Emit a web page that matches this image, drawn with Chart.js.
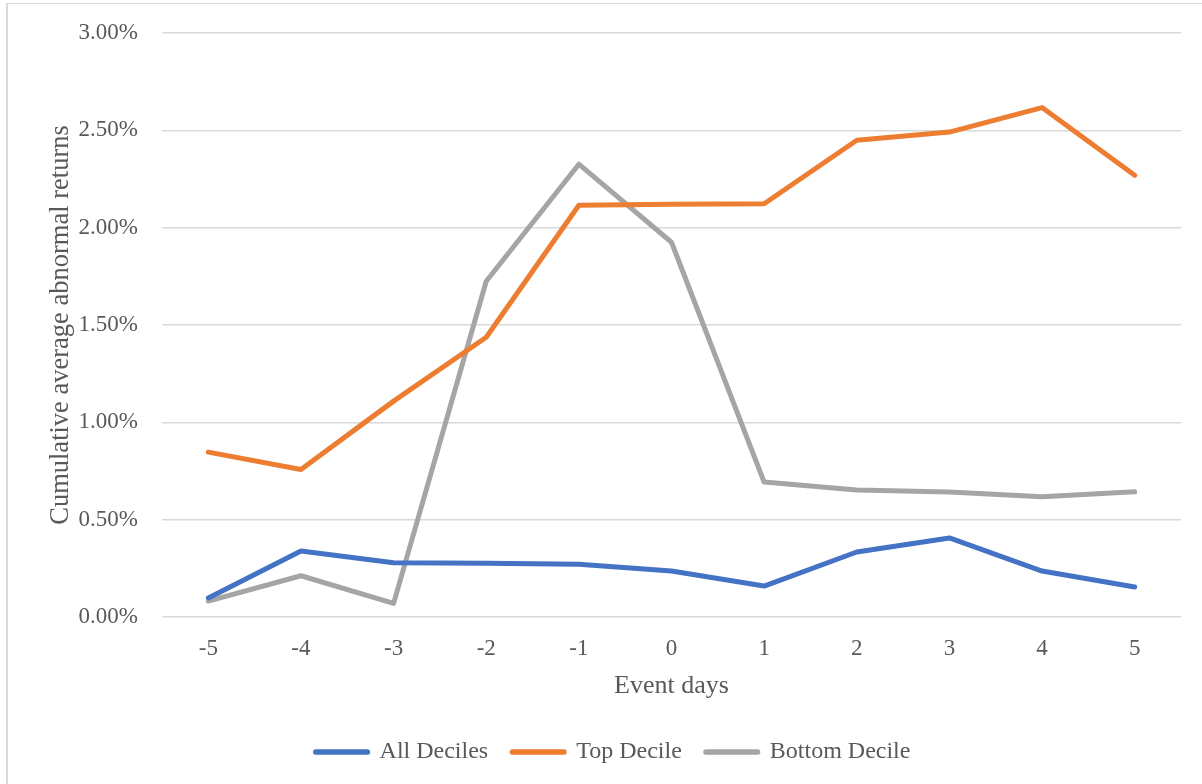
<!DOCTYPE html>
<html>
<head>
<meta charset="utf-8">
<script src="https://cdn.jsdelivr.net/npm/chart.js@4.4.1/dist/chart.umd.min.js"></script>
<style>
  html, body { margin: 0; padding: 0; background: #ffffff; overflow: hidden; width: 1202px; height: 784px; }
  #frame { position: absolute; left: 6px; top: 3px; width: 1300px; height: 900px; border-left: 2px solid #d9d9d9; border-top: 1px solid #d9d9d9; box-sizing: border-box; pointer-events: none; }
  #wrap { position: absolute; left: 0; top: 0; width: 1202px; height: 774px; }
</style>
</head>
<body>
<div id="wrap"><canvas id="c" width="1202" height="774"></canvas></div>
<div id="frame"></div>
<script>
// Event days (categories)
const eventDays = ['-5', '-4', '-3', '-2', '-1', '0', '1', '2', '3', '4', '5'];
// Cumulative average abnormal returns, in percent
const allDeciles    = [0.098, 0.339, 0.279, 0.276, 0.271, 0.236, 0.159, 0.334, 0.406, 0.236, 0.154];
const topDecile     = [0.847, 0.758, 1.109, 1.437, 2.115, 2.120, 2.123, 2.449, 2.491, 2.617, 2.269];
const bottomDecile  = [0.082, 0.212, 0.070, 1.725, 2.326, 1.925, 0.693, 0.652, 0.642, 0.618, 0.643];
const seriesNames   = ['All Deciles', 'Top Decile', 'Bottom Decile'];
const yTicksMin = 0, yTicksMax = 3, yTickStep = 0.5;

const textColor = '#595959';
const fontFam = "'Liberation Serif', 'Times New Roman', serif";

function ds(label, data, color) {
  return {
    label, data,
    borderColor: color, backgroundColor: color,
    borderWidth: 5, pointRadius: 0, pointHoverRadius: 0,
    tension: 0, borderCapStyle: 'round', borderJoinStyle: 'round', fill: false
  };
}

new Chart(document.getElementById('c'), {
  type: 'line',
  data: {
    labels: eventDays,
    datasets: [
      ds(seriesNames[0], allDeciles, '#4472c4'),
      ds(seriesNames[1], topDecile, '#ed7d31'),
      ds(seriesNames[2], bottomDecile, '#a5a5a5')
    ]
  },
  options: {
    responsive: false,
    animation: false,
    devicePixelRatio: 1,
    layout: { padding: { left: 45, right: 21, top: 33, bottom: 0 } },
    plugins: {
      tooltip: { enabled: false },
      legend: {
        position: 'bottom',
        labels: {
          color: textColor,
          font: { family: fontFam, size: 24 },
          boxWidth: 52, boxHeight: 0.5,
          padding: 24
        }
      }
    },
    scales: {
      x: {
        offset: true,
        grid: { display: false, drawTicks: false },
        border: { display: false },
        ticks: { color: textColor, font: { family: fontFam, size: 23 }, padding: 18, maxRotation: 0 },
        title: { display: true, text: 'Event days', color: textColor, font: { family: fontFam, size: 26 }, padding: { top: 0, bottom: 14 } },
        afterFit(scale) { scale.height = 99; }
      },
      y: {
        min: yTicksMin, max: yTicksMax,
        grid: { color: '#d9d9d9', lineWidth: 1.5, drawTicks: true, tickLength: 20, tickColor: 'rgba(0,0,0,0)' },
        border: { display: false },
        ticks: {
          stepSize: yTickStep, color: textColor, font: { family: fontFam, size: 23 }, padding: 4,
          callback: v => Number(v).toFixed(2) + '%'
        },
        title: { display: true, text: 'Cumulative average abnormal returns', color: textColor, font: { family: fontFam, size: 26.5 }, padding: { top: 0, bottom: 0 } },
        afterFit(scale) { scale.width = 117; }
      }
    }
  }
});
</script>
</body>
</html>
